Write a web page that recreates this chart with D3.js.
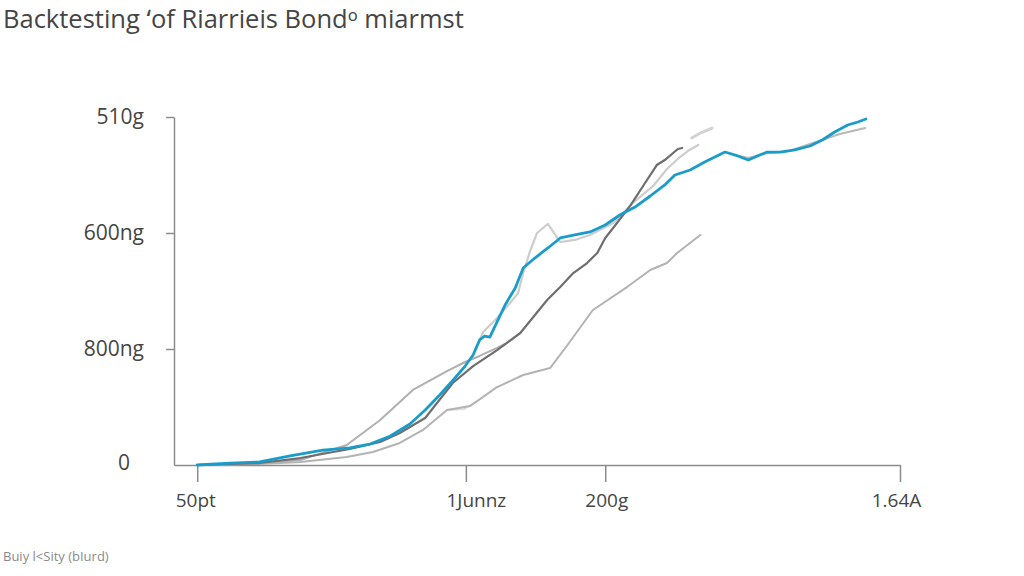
<!DOCTYPE html>
<html>
<head>
<meta charset="utf-8">
<script src="https://cdn.jsdelivr.net/npm/d3@7"></script>
<style>
  html, body { margin: 0; padding: 0; background: #fff; }
  svg { display: block; }
</style>
</head>
<body>
<svg id="chart" width="1024" height="576"></svg>
<script>
// ---- data ----
const title = "Backtesting \u02BBof Riarrieis Bond\u1D52 miarmst";
const footer = "Buiy l<Sity (bIurd)";

const yTickValues = [0, 100, 200, 300];
const yTickLabels = ["0", "800ng", "600ng", "510g"];

const xTickValues = [3.2, 40.2, 59.4, 100];
const xTickLabels = ["50pt", "1Junnz", "200g", "1.64A"];

const seriesBlue = [
  [3.2,0],[7.7,1.7],[11.8,2.6],[16.0,7.8],[20.5,12.9],[24.2,14.7],[27.0,18.1],[29.8,25.0],
  [32.5,35.3],[34.6,47.4],[36.6,60.3],[38.7,75.0],[40.1,85.3],[41.2,94.8],[42.1,107.8],
  [42.8,111.2],[43.5,110.3],[44.5,123.3],[45.6,137.9],[47.0,152.6],[48.1,169.8],[49.7,178.4],
  [51.5,187.1],[53.2,195.7],[55.2,198.3],[57.3,200.9],[59.4,206.9],[61.4,215.5],[63.5,222.4],
  [65.6,231.9],[67.6,241.4],[69.0,250.0],[71.1,254.3],[73.1,261.2],[74.5,265.5],[75.9,269.8],
  [77.3,267.2],[79.1,262.9],[80.7,267.2],[81.7,269.8],[83.5,269.8],[85.5,271.6],[87.6,275.0],
  [89.3,280.2],[91.0,287.1],[92.8,293.1],[94.2,295.7],[95.3,298.3]
];
const seriesDark = [
  [3.2,0],[11.8,1.7],[17.4,6.0],[24.2,13.8],[28.4,19.8],[31.1,27.6],[34.6,40.5],[38.4,70.7],
  [41.2,85.3],[44.5,99.1],[47.7,113.8],[51.4,142.2],[53.2,153.4],[55.0,165.5],[56.9,174.1],
  [58.3,182.8],[59.4,195.7],[60.7,206.0],[62.9,224.1],[64.7,241.4],[66.5,258.6],[67.6,262.9],
  [69.4,272.4],[70.0,273.3]
];
const seriesUpperGray = [
  [3.2,0],[11.8,1.7],[17.4,4.3],[23.8,17.2],[28.4,38.8],[32.9,64.7],[37.6,81.0],[40.1,88.8],
  [42.1,94.0],[44.5,100.9],[45.6,104.3]
];
const seriesSpike = [
  [41.5,99.1],[42.6,114.7],[44.5,126.7],[46.3,139.7],[47.4,148.3],[48.1,165.5],[49.0,183.6],
  [50.0,200.0],[51.5,207.8],[53.2,192.2],[55.2,194.0],[57.3,198.3],[60.5,208.6],[63.2,225.9],
  [66.0,240.5],[67.9,255.2],[69.7,265.5],[71.0,271.6],[72.2,275.9]
];
const seriesTip = [[71.3,281.9],[72.5,286.2],[74.1,290.5]];
const seriesLower = [
  [3.2,0],[11.8,0.9],[17.4,2.6],[23.8,6.9],[27.4,11.2],[31.1,19.0],[34.3,30.2],[37.6,47.4],
  [40.8,50.9],[44.5,67.2],[48.1,77.6],[51.8,83.6],[54.1,102.6],[55.9,118.1],[57.7,133.6],
  [62.4,153.4],[65.6,168.1],[67.9,174.1],[69.3,182.8],[72.5,198.3]
];
const seriesFaint = [[37.6,47.4],[40.0,48.3],[42.0,56.0],[44.5,67.2]];
const seriesRight = [
  [77.3,267.2],[79.1,264.7],[81.4,268.5],[84.8,270.7],[88.0,277.6],[91.7,285.3],[95.2,290.5]
];

// ---- layout ----
const svg = d3.select("#chart");
const margin = { left: 174, right: 124, top: 117, bottom: 111 };
const W = 1024, H = 576;

const x = d3.scaleLinear().domain([0, 100]).range([margin.left, W - margin.right]);
const y = d3.scaleLinear().domain([0, 300]).range([H - margin.bottom, margin.top]);

const font = "'Open Sans', 'Noto Sans', sans-serif";

// title
svg.append("text")
  .attr("x", 3).attr("y", 28)
  .attr("font-family", font).attr("font-size", 25.5)
  .attr("fill", "#454545")
  .text(title);

// footer
svg.append("text")
  .attr("x", 3).attr("y", 561)
  .attr("font-family", font).attr("font-size", 13)
  .attr("fill", "#8a8a8a")
  .text(footer);

// y axis
const yAxis = d3.axisLeft(y)
  .tickValues(yTickValues)
  .tickSize(8).tickSizeOuter(0).tickPadding(22)
  .tickFormat((d, i) => yTickLabels[i]);
const gy = svg.append("g").attr("transform", `translate(${margin.left},0)`).call(yAxis);
gy.select(".domain").attr("stroke", "#8c8c8c").attr("stroke-width", 1.5);
gy.selectAll(".tick line").attr("stroke", "#8c8c8c").attr("stroke-width", 1.5);
gy.selectAll(".tick text")
  .attr("font-family", font).attr("font-size", 21).attr("fill", "#454545");
gy.selectAll(".tick").filter(d => d === 0).select("line").remove();
gy.selectAll(".tick").filter(d => d === 0).select("text").attr("dx", -14).attr("dy", "0.2em");

// x axis
const xAxis = d3.axisBottom(x)
  .tickValues(xTickValues)
  .tickSize(17).tickSizeOuter(0).tickPadding(12)
  .tickFormat((d, i) => xTickLabels[i]);
const gx = svg.append("g").attr("transform", `translate(0,${H - margin.bottom})`).call(xAxis);
gx.select(".domain").attr("stroke", "#8c8c8c").attr("stroke-width", 1.5);
gx.selectAll(".tick line").attr("stroke", "#8c8c8c").attr("stroke-width", 1.5);
gx.selectAll(".tick text")
  .attr("font-family", font).attr("font-size", 19).attr("fill", "#454545");
gx.selectAll(".tick text").attr("dx", (d, i) => [ -2, 10, 1, -4 ][i]);

// lines
const line = d3.line().x(d => x(d[0])).y(d => y(d[1])).curve(d3.curveLinear);
const lines = [
  { data: seriesFaint, color: "#dddddd", w: 2 },
  { data: seriesLower, color: "#b3b3b3", w: 2 },
  { data: seriesUpperGray, color: "#b0b0b0", w: 2 },
  { data: seriesRight, color: "#b8b8b8", w: 2 },
  { data: seriesSpike, color: "#cdcdcd", w: 2.2 },
  { data: seriesTip, color: "#d3d3d3", w: 3 },
  { data: seriesDark, color: "#6e6e6e", w: 2.2 },
  { data: seriesBlue, color: "#1a9ccb", w: 2.8 }
];
svg.append("g").selectAll("path")
  .data(lines)
  .join("path")
  .attr("d", d => line(d.data))
  .attr("fill", "none")
  .attr("stroke", d => d.color)
  .attr("stroke-width", d => d.w)
  .attr("stroke-linejoin", "round")
  .attr("stroke-linecap", "round");
</script>
</body>
</html>
